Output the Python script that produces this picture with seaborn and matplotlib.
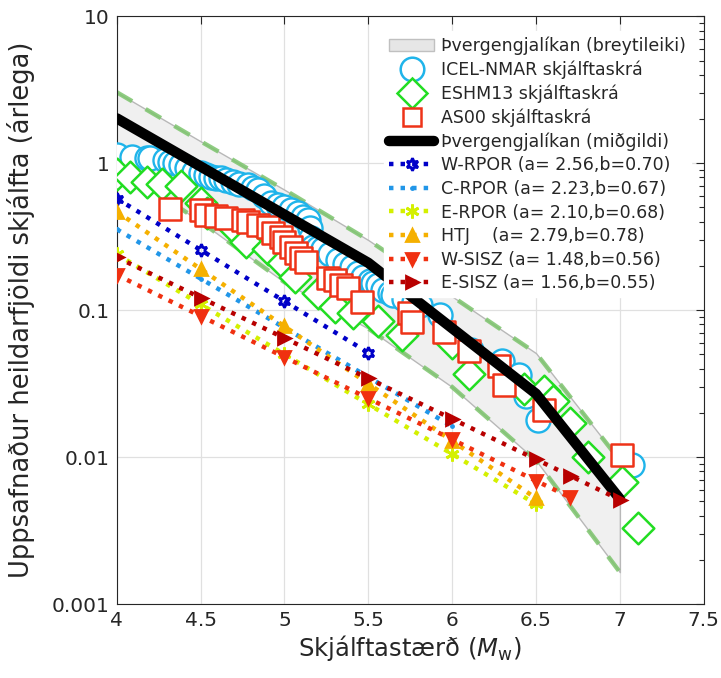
import numpy as np
import pandas as pd
import matplotlib
matplotlib.use("Agg")
import matplotlib.pyplot as plt
import seaborn as sns
from matplotlib.lines import Line2D
from matplotlib.patches import Patch

# ---------------- data ----------------
band_m = [4.0, 4.5, 5.0, 5.5, 6.0, 6.5, 7.0]
band_upper = [3.04, 1.41, 0.66, 0.30, 0.124, 0.051, 0.0095]
band_lower = [0.95, 0.40, 0.155, 0.075, 0.030, 0.0095, 0.00165]

median_m = [4.0, 5.5, 6.5, 7.0]
median_n = [2.02, 0.21, 0.027, 0.0052]

icel_m = [4.0, 4.09, 4.18, 4.2, 4.29, 4.32, 4.35, 4.38, 4.42, 4.46, 4.5, 4.53, 4.56,
          4.59, 4.62, 4.65, 4.69, 4.73, 4.78, 4.81, 4.84, 4.88, 4.92, 4.96, 5.0, 5.04,
          5.08, 5.11, 5.14, 5.15, 5.16, 5.17, 5.2, 5.23, 5.27, 5.32, 5.36, 5.4, 5.44,
          5.47, 5.51, 5.53, 5.56, 5.59, 5.63, 5.65, 5.71, 5.77, 5.81, 5.93, 6.11, 6.3,
          6.4, 6.44, 6.51, 7.07]
icel_n = [1.13, 1.10, 1.08, 1.08, 1.05, 1.02, 1.0, 0.97, 0.925, 0.87, 0.855, 0.83, 0.80,
          0.795, 0.79, 0.77, 0.74, 0.725, 0.71, 0.68, 0.655, 0.60, 0.54, 0.52, 0.50, 0.48,
          0.457, 0.43, 0.41, 0.36, 0.31, 0.27, 0.265, 0.26, 0.24, 0.22, 0.205, 0.196, 0.18,
          0.168, 0.158, 0.153, 0.148, 0.137, 0.13, 0.127, 0.12, 0.113, 0.108, 0.093, 0.054, 0.045,
          0.036, 0.026, 0.018, 0.0088]

eshm_m = [4.0, 4.08, 4.18, 4.27, 4.38, 4.5, 4.54, 4.69, 4.77, 4.9, 4.99, 5.06, 5.2, 5.3,
          5.41, 5.56, 5.7, 6.0, 6.1, 6.43, 6.55, 6.6, 6.7, 6.81, 7.01, 7.11]
eshm_n = [0.85, 0.80, 0.75, 0.72, 0.70, 0.54, 0.46, 0.37, 0.29, 0.26, 0.21, 0.168, 0.13, 0.105,
          0.095, 0.085, 0.068, 0.06, 0.037, 0.029, 0.028, 0.024, 0.017, 0.010, 0.0068, 0.0033]

as00_m = [4.32, 4.5, 4.53, 4.59, 4.65, 4.75, 4.78, 4.84, 4.9, 4.93, 4.98, 5.0, 5.04, 5.07,
          5.1, 5.13, 5.26, 5.3, 5.34, 5.38, 5.46, 5.74, 5.76, 5.95, 6.1, 6.28, 6.31, 6.55, 7.01]
as00_n = [0.49, 0.48, 0.447, 0.44, 0.427, 0.41, 0.40, 0.38, 0.367, 0.334, 0.314, 0.29, 0.268,
          0.244, 0.226, 0.212, 0.165, 0.16, 0.148, 0.141, 0.113, 0.095, 0.083, 0.071, 0.053,
          0.042, 0.031, 0.021, 0.0103]

wrpor_m = [4.0, 4.5, 5.0, 5.5]
wrpor_n = [0.575, 0.257, 0.115, 0.0513]
crpor_m = [4.0, 4.5, 5.0, 5.5, 6.0]
crpor_n = [0.355, 0.164, 0.0759, 0.0351, 0.0162]
erpor_m = [4.0, 4.5, 5.0, 5.5, 6.0, 6.5]
erpor_n = [0.240, 0.1096, 0.0501, 0.0229, 0.0105, 0.00479]
htj_m = [4.0, 4.5, 5.0, 5.5, 6.0, 6.5]
htj_n = [0.468, 0.1905, 0.0776, 0.0316, 0.0129, 0.00525]
wsisz_m = [4.0, 4.5, 5.0, 5.5, 6.0, 6.5, 6.7]
wsisz_n = [0.174, 0.0912, 0.0479, 0.0251, 0.0132, 0.0069, 0.00535]
esisz_m = [4.0, 4.5, 5.0, 5.5, 6.0, 6.5, 6.7, 7.0]
esisz_n = [0.229, 0.1216, 0.0646, 0.0343, 0.0182, 0.00966, 0.0075, 0.00513]

labels = ["Þvergengjalíkan (breytileiki)", "ICEL-NMAR skjálftaskrá", "ESHM13 skjálftaskrá",
          "AS00 skjálftaskrá", "Þvergengjalíkan (miðgildi)",
          "W-RPOR (a= 2.56,b=0.70)", "C-RPOR (a= 2.23,b=0.67)", "E-RPOR (a= 2.10,b=0.68)",
          "HTJ    (a= 2.79,b=0.78)", "W-SISZ (a= 1.48,b=0.56)", "E-SISZ (a= 1.56,b=0.55)"]

xticks = [4, 4.5, 5, 5.5, 6, 6.5, 7, 7.5]
xticklabels = ["4", "4.5", "5", "5.5", "6", "6.5", "7", "7.5"]
yticks = [0.001, 0.01, 0.1, 1, 10]
yticklabels = ["0.001", "0.01", "0.1", "1", "10"]

# ---------------- plotting ----------------
sns.set_theme(style="white")
plt.rcParams['font.family'] = ['DejaVu Sans']

fig = plt.figure(figsize=(7.21, 6.78), dpi=100)
ax = fig.add_axes([0.162, 0.109, 0.814, 0.867])
ax.set_yscale("log")

# band
ax.fill_between(band_m, band_lower, band_upper, facecolor="#f0f0f0", edgecolor="#b8b8b8",
                linewidth=1.0, zorder=1)
dash_col = "#7cc46c"
band_df_u = pd.DataFrame({"m": band_m, "n": band_upper})
band_df_l = pd.DataFrame({"m": band_m, "n": band_lower})
for d in (band_df_u, band_df_l):
    sns.lineplot(data=d, x="m", y="n", ax=ax, color=dash_col, linewidth=3.2,
                 linestyle=(0, (4, 3.5)), sort=False, estimator=None, zorder=2, alpha=0.85)

# scatter catalogs
sns.scatterplot(x=icel_m, y=icel_n, ax=ax, marker="o", s=300, facecolor="white",
                edgecolor="#1fb4ea", linewidth=1.7, zorder=3)
sns.scatterplot(x=eshm_m, y=eshm_n, ax=ax, marker="D", s=260, facecolor="white",
                edgecolor="#22dd22", linewidth=1.8, zorder=3)
sns.scatterplot(x=as00_m, y=as00_n, ax=ax, marker="s", s=230, facecolor="white",
                edgecolor="#ee3318", linewidth=1.8, zorder=4)

# median
sns.lineplot(x=median_m, y=median_n, ax=ax, color="black", linewidth=7.5, sort=False,
             estimator=None, zorder=6)

dot = (0, (1.0, 1.6))
line_specs = [
    (wrpor_m, wrpor_n, "#0000c8", (6, 1, 0), 9, "none"),
    (crpor_m, crpor_n, "#2196e8", ".", 3, None),
    (erpor_m, erpor_n, "#d4f000", (6, 2, 0), 10, None),
    (htj_m, htj_n, "#f5b000", "^", 8, None),
    (wsisz_m, wsisz_n, "#f03010", "v", 8, None),
    (esisz_m, esisz_n, "#b80000", ">", 8, None),
]
for mm, nn, col, mk, ms, mfc in line_specs:
    kw = dict(color=col, linewidth=3.2, linestyle=dot, marker=mk, markersize=ms,
              markeredgewidth=2.0, markeredgecolor=col,
              markerfacecolor=(col if mfc is None else "none"), sort=False,
              estimator=None, zorder=7, dash_capstyle="butt")
    sns.lineplot(x=mm, y=nn, ax=ax, **kw)

# axes
ax.set_xlim(4, 7.5)
ax.set_ylim(0.001, 10)
ax.set_xticks(xticks)
ax.set_xticklabels(xticklabels)
ax.set_yticks(yticks)
ax.set_yticklabels(yticklabels)
ax.grid(True, which="major", color="#e0e0e0", linewidth=0.9)
ax.tick_params(axis="both", which="both", direction="in", top=True, right=True,
               labelsize=14.5, colors="#262626")
ax.tick_params(axis="both", which="major", length=6, width=0.8, pad=5)
ax.tick_params(axis="y", which="minor", length=3.5, width=0.8)
for sp in ax.spines.values():
    sp.set_color("#262626")
    sp.set_linewidth(0.8)

ax.set_xlabel("Skjálftastærð ($\\mathit{M}_{\\mathrm{w}}$)", fontsize=17.5, color="#262626",
              labelpad=2)
ax.set_ylabel("Uppsafnaður heildarfjöldi skjálfta (árlega)", fontsize=18.5, color="#262626")
ax.yaxis.set_label_coords(-0.14, 0.5)

# legend
handles = [
    Patch(facecolor="#e6e6e6", edgecolor="#c0c0c0", linewidth=1.0),
    Line2D([], [], linestyle="none", marker="o", markersize=17, markerfacecolor="white",
           markeredgecolor="#1fb4ea", markeredgewidth=1.8),
    Line2D([], [], linestyle="none", marker="D", markersize=15, markerfacecolor="white",
           markeredgecolor="#22dd22", markeredgewidth=1.8),
    Line2D([], [], linestyle="none", marker="s", markersize=13, markerfacecolor="white",
           markeredgecolor="#ee3318", markeredgewidth=1.8),
    Line2D([], [], color="black", linewidth=7.5),
]
for mm, nn, col, mk, ms, mfc in line_specs:
    handles.append(Line2D([], [], color=col, linewidth=3.2, linestyle=dot, marker=mk,
                          markersize=ms, markeredgewidth=2.0, markeredgecolor=col,
                          markerfacecolor=(col if mfc is None else "none"),
                          dash_capstyle="butt"))
leg = ax.legend(handles, labels, loc="upper left", bbox_to_anchor=(0.455, 0.975),
                frameon=True, fontsize=12.5, handlelength=2.6, handletextpad=0.4,
                labelspacing=0.32, borderpad=0.3, borderaxespad=0.0)
leg.get_frame().set_edgecolor("white")
leg.get_frame().set_facecolor("white")
leg.get_frame().set_alpha(1.0)
leg.set_zorder(10)

fig.savefig("out.png", dpi=100)
